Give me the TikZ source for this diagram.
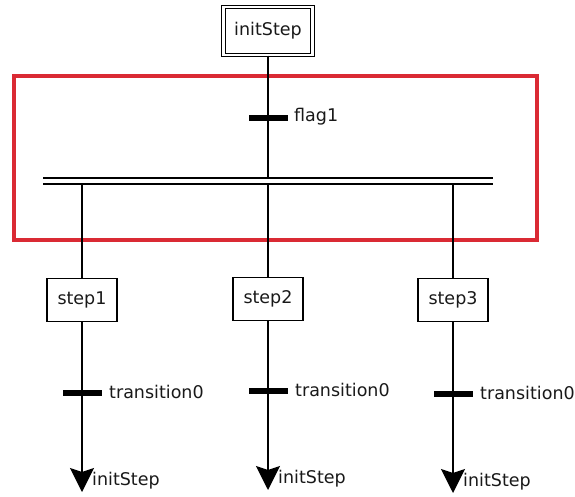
\documentclass[tikz,border=0pt]{standalone}
\usepackage{fontspec}
\setmainfont{DejaVu Sans}
\usetikzlibrary{arrows.meta}
\definecolor{framered}{RGB}{218,42,52}
\begin{document}
\begin{tikzpicture}[x=1pt,y=-1pt,
  every node/.style={font=\fontsize{17.5}{20}\selectfont, text=black!90},
  stepbox/.style={draw, line width=1.2pt, minimum width=70pt, minimum height=43pt, inner sep=0pt},
  initbox/.style={draw, double, double distance=2.2pt, line width=1.1pt, minimum width=89pt, minimum height=48pt, inner sep=0pt},
  bar/.style={fill=black, minimum width=39pt, minimum height=6pt, inner sep=0pt},
  lbl/.style={anchor=west, inner sep=0pt},
  link/.style={line width=1.4pt},
  goto/.style={line width=1.4pt, -{Stealth[length=24pt, width=24pt, inset=4pt, fill=black]}},
  frame/.style={draw=framered, line width=4pt}
]
\useasboundingbox (0,0) rectangle (575,497);

% highlighted region around the divergence
\draw[frame] (14,76) rectangle (537,240);

% initial step and first transition
\node[initbox] (init) at (268,31) {initStep};
\node[bar] (t0) at (268,118) {};
\node[lbl] (t0l) at (294,117) {flag1};

% simultaneous divergence (double line)
\coordinate (dvL) at (43,178);
\coordinate (dvR) at (493,178);
\coordinate (dvL2) at (43,184);
\coordinate (dvR2) at (493,184);
\draw[link] (dvL) -- (dvR);
\draw[link] (dvL2) -- (dvR2);
\coordinate (d1) at (82,184);
\coordinate (d2) at (268,184);
\coordinate (d3) at (453,184);
\coordinate (dtop) at (268,178);

\draw[link] (init) -- (t0);
\draw[link] (t0) -- (dtop);

% parallel branches
\node[stepbox] (s1) at (82,300) {step1};
\node[stepbox] (s2) at (268,299) {step2};
\node[stepbox] (s3) at (453,300) {step3};

\node[bar] (b1) at (82,393) {};
\node[bar] (b2) at (268,391) {};
\node[bar] (b3) at (453,394) {};

\node[lbl] (l1) at (109,392) {transition0};
\node[lbl] (l2) at (295,390) {transition0};
\node[lbl] (l3) at (480,393) {transition0};

\coordinate (e1) at (82,492);
\coordinate (e2) at (268,490);
\coordinate (e3) at (453,493);

\node[lbl] (j1) at (92,481) {initStep};
\node[lbl] (j2) at (278,479) {initStep};
\node[lbl] (j3) at (463,482) {initStep};

\draw[link] (d1) -- (s1);
\draw[link] (d2) -- (s2);
\draw[link] (d3) -- (s3);
\draw[link] (s1) -- (b1);
\draw[link] (s2) -- (b2);
\draw[link] (s3) -- (b3);
\draw[goto] (b1) -- (e1);
\draw[goto] (b2) -- (e2);
\draw[goto] (b3) -- (e3);
\end{tikzpicture}
\end{document}
